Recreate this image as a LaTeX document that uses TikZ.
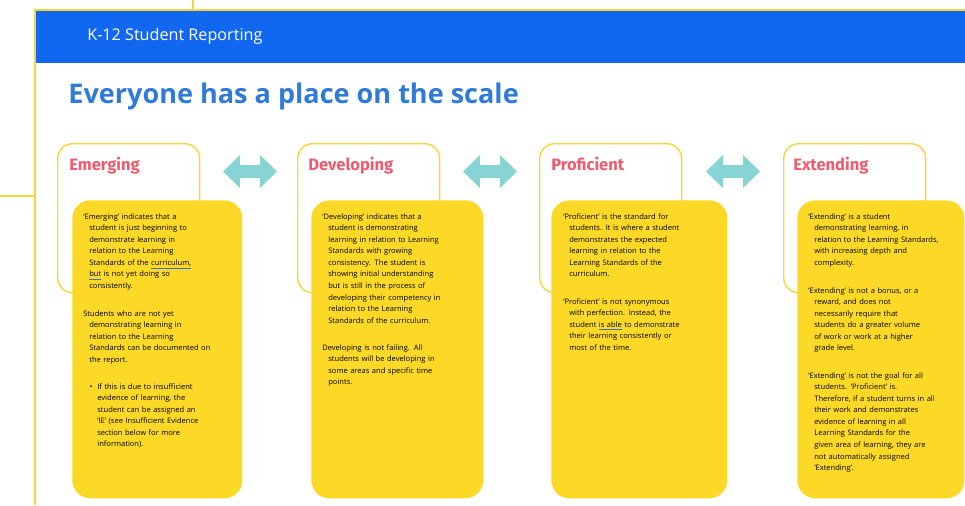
\documentclass[tikz,border=0pt]{standalone}
\usepackage{fontspec}
\setmainfont{Open Sans}
\newfontfamily\levelfont{Fira Sans}
\definecolor{bandblue}{HTML}{1267F1}
\definecolor{titleblue}{HTML}{2F7BDB}
\definecolor{frameyellow}{HTML}{F8D63A}
\definecolor{cardyellow}{HTML}{FDD927}
\definecolor{levelred}{HTML}{F25A6E}
\definecolor{arrowteal}{HTML}{86D4D3}
\definecolor{squigblue}{HTML}{3B6FD0}
\newcommand\hangpara{\noindent\hangindent=0.12cm\hangafter=1\relax}
\newcommand\squig[1]{{\color{squigblue}\underline{\color{black}#1}}}
\tikzset{
    frameline/.style={draw=frameyellow, line width=0.9pt},
    outerbox/.style={draw=frameyellow, fill=white, line width=0.8pt,
        rounded corners=0.3cm, minimum width=2.84cm, minimum height=2.98cm,
        anchor=north west, inner sep=0pt},
    cardbox/.style={fill=cardyellow, rounded corners=0.36cm,
        minimum width=#1*0.02cm, minimum height=5.96cm,
        anchor=north west, inner sep=0pt},
    levelname/.style={anchor=base west, inner sep=0pt, text=levelred,
        font=\levelfont\bfseries\fontsize{9.4}{11}\selectfont},
    bodytext/.style={anchor=north west, inner sep=0pt, text width=3.5cm,
        align=left, font=\fontsize{4.3}{6.58}\selectfont}
}

\begin{document}
\begin{tikzpicture}[x=0.02cm, y=-0.02cm]
    \useasboundingbox (0,0) rectangle (965,505);
    \draw[frameline] (193,0) -- (193,10);
    \draw[frameline] (0,196) -- (35,196);
    \draw[frameline] (35,505) -- (35,10) -- (965,10);
    \fill[bandblue] (35.5,10.5) rectangle (965,63);
    \node[anchor=west, inner sep=0pt, text=white, font=\fontsize{9.2}{11}\selectfont]
        (header) at (87,36) {K-12 Student Reporting};
    \node[anchor=west, inner sep=0pt, text=titleblue, font=\bfseries\fontsize{15.4}{18}\selectfont]
        (title) at (68,96) {Everyone has a place on the scale};

    \foreach \ax in {223,463,706}{
        \begin{scope}[shift={(\ax,171.5)}]
            \fill[arrowteal] (0,0) -- (17,-16.5) -- (17,-6.5) -- (37,-6.5) -- (37,-16.5)
                -- (54,0) -- (37,16.5) -- (37,6.5) -- (17,6.5) -- (17,16.5) -- cycle;
        \end{scope}
    }

    \node[outerbox] (emOuter) at (57,143) {};
    \node[cardbox=170] (emCard) at (72,200) {};
    \node[levelname] (emName) at (69,170) {Emerging};
    \node[bodytext] (emText1) at (83,213) {\hangpara
        `Emerging' indicates that a\newline
        student is just beginning to\newline
        demonstrate learning in\newline
        relation to the Learning\newline
        Standards of the \squig{curriculum,}\newline
        \squig{but} is not yet doing so\newline
        consistently.\par};
    \node[bodytext] (emText2) at (83,310) {\hangpara
        Students who are not yet\newline
        demonstrating learning in\newline
        relation to the Learning\newline
        Standards can be documented on\newline
        the report.\par};
    \node[bodytext] (emText3) at (97,383) {\noindent\llap{\textbullet\hspace{0.1cm}}%
        If this is due to insufficient\newline
        evidence of learning, the\newline
        student can be assigned an\newline
        `IE' (see Insufficient Evidence\newline
        section below for more\newline
        information).\par};

    \node[outerbox] (devOuter) at (297,143) {};
    \node[cardbox=172] (devCard) at (311,200) {};
    \node[levelname] (devName) at (308,170) {Developing};
    \node[bodytext] (devText1) at (322,213) {\hangpara
        `Developing' indicates that a\newline
        student is demonstrating\newline
        learning in relation to Learning\newline
        Standards with growing\newline
        consistency. The student is\newline
        showing initial understanding\newline
        but is still in the process of\newline
        developing their competency in\newline
        relation to the Learning\newline
        Standards of the curriculum.\par};
    \node[bodytext] (devText2) at (322,344) {\hangpara
        Developing is not failing. All\newline
        students will be developing in\newline
        some areas and specific time\newline
        points.\par};

    \node[outerbox] (proOuter) at (539,143) {};
    \node[cardbox=176] (proCard) at (551,200) {};
    \node[levelname] (proName) at (551,170) {Proficient};
    \node[bodytext] (proText1) at (563,213) {\hangpara
        `Proficient' is the standard for\newline
        students. It is where a student\newline
        demonstrates the expected\newline
        learning in relation to the\newline
        Learning Standards of the\newline
        curriculum.\par};
    \node[bodytext] (proText2) at (563,298) {\hangpara
        `Proficient' is not synonymous\newline
        with perfection. Instead, the\newline
        student \squig{is able} to demonstrate\newline
        their learning consistently or\newline
        most of the time.\par};

    \node[outerbox] (extOuter) at (783,143) {};
    \node[cardbox=167] (extCard) at (797,200) {};
    \node[levelname] (extName) at (793,170) {Extending};
    \node[bodytext] (extText1) at (808,213) {\hangpara
        `Extending' is a student\newline
        demonstrating learning, in\newline
        relation to the Learning Standards,\newline
        with increasing depth and\newline
        complexity.\par};
    \node[bodytext] (extText2) at (808,287) {\hangpara
        `Extending' is not a bonus, or a\newline
        reward, and does not\newline
        necessarily require that\newline
        students do a greater volume\newline
        of work or work at a higher\newline
        grade level.\par};
    \node[bodytext] (extText3) at (808,372) {\hangpara
        `Extending' is not the goal for all\newline
        students. `Proficient' is.\newline
        Therefore, if a student turns in all\newline
        their work and demonstrates\newline
        evidence of learning in all\newline
        Learning Standards for the\newline
        given area of learning, they are\newline
        not automatically assigned\newline
        `Extending'.\par};
\end{tikzpicture}
\end{document}
